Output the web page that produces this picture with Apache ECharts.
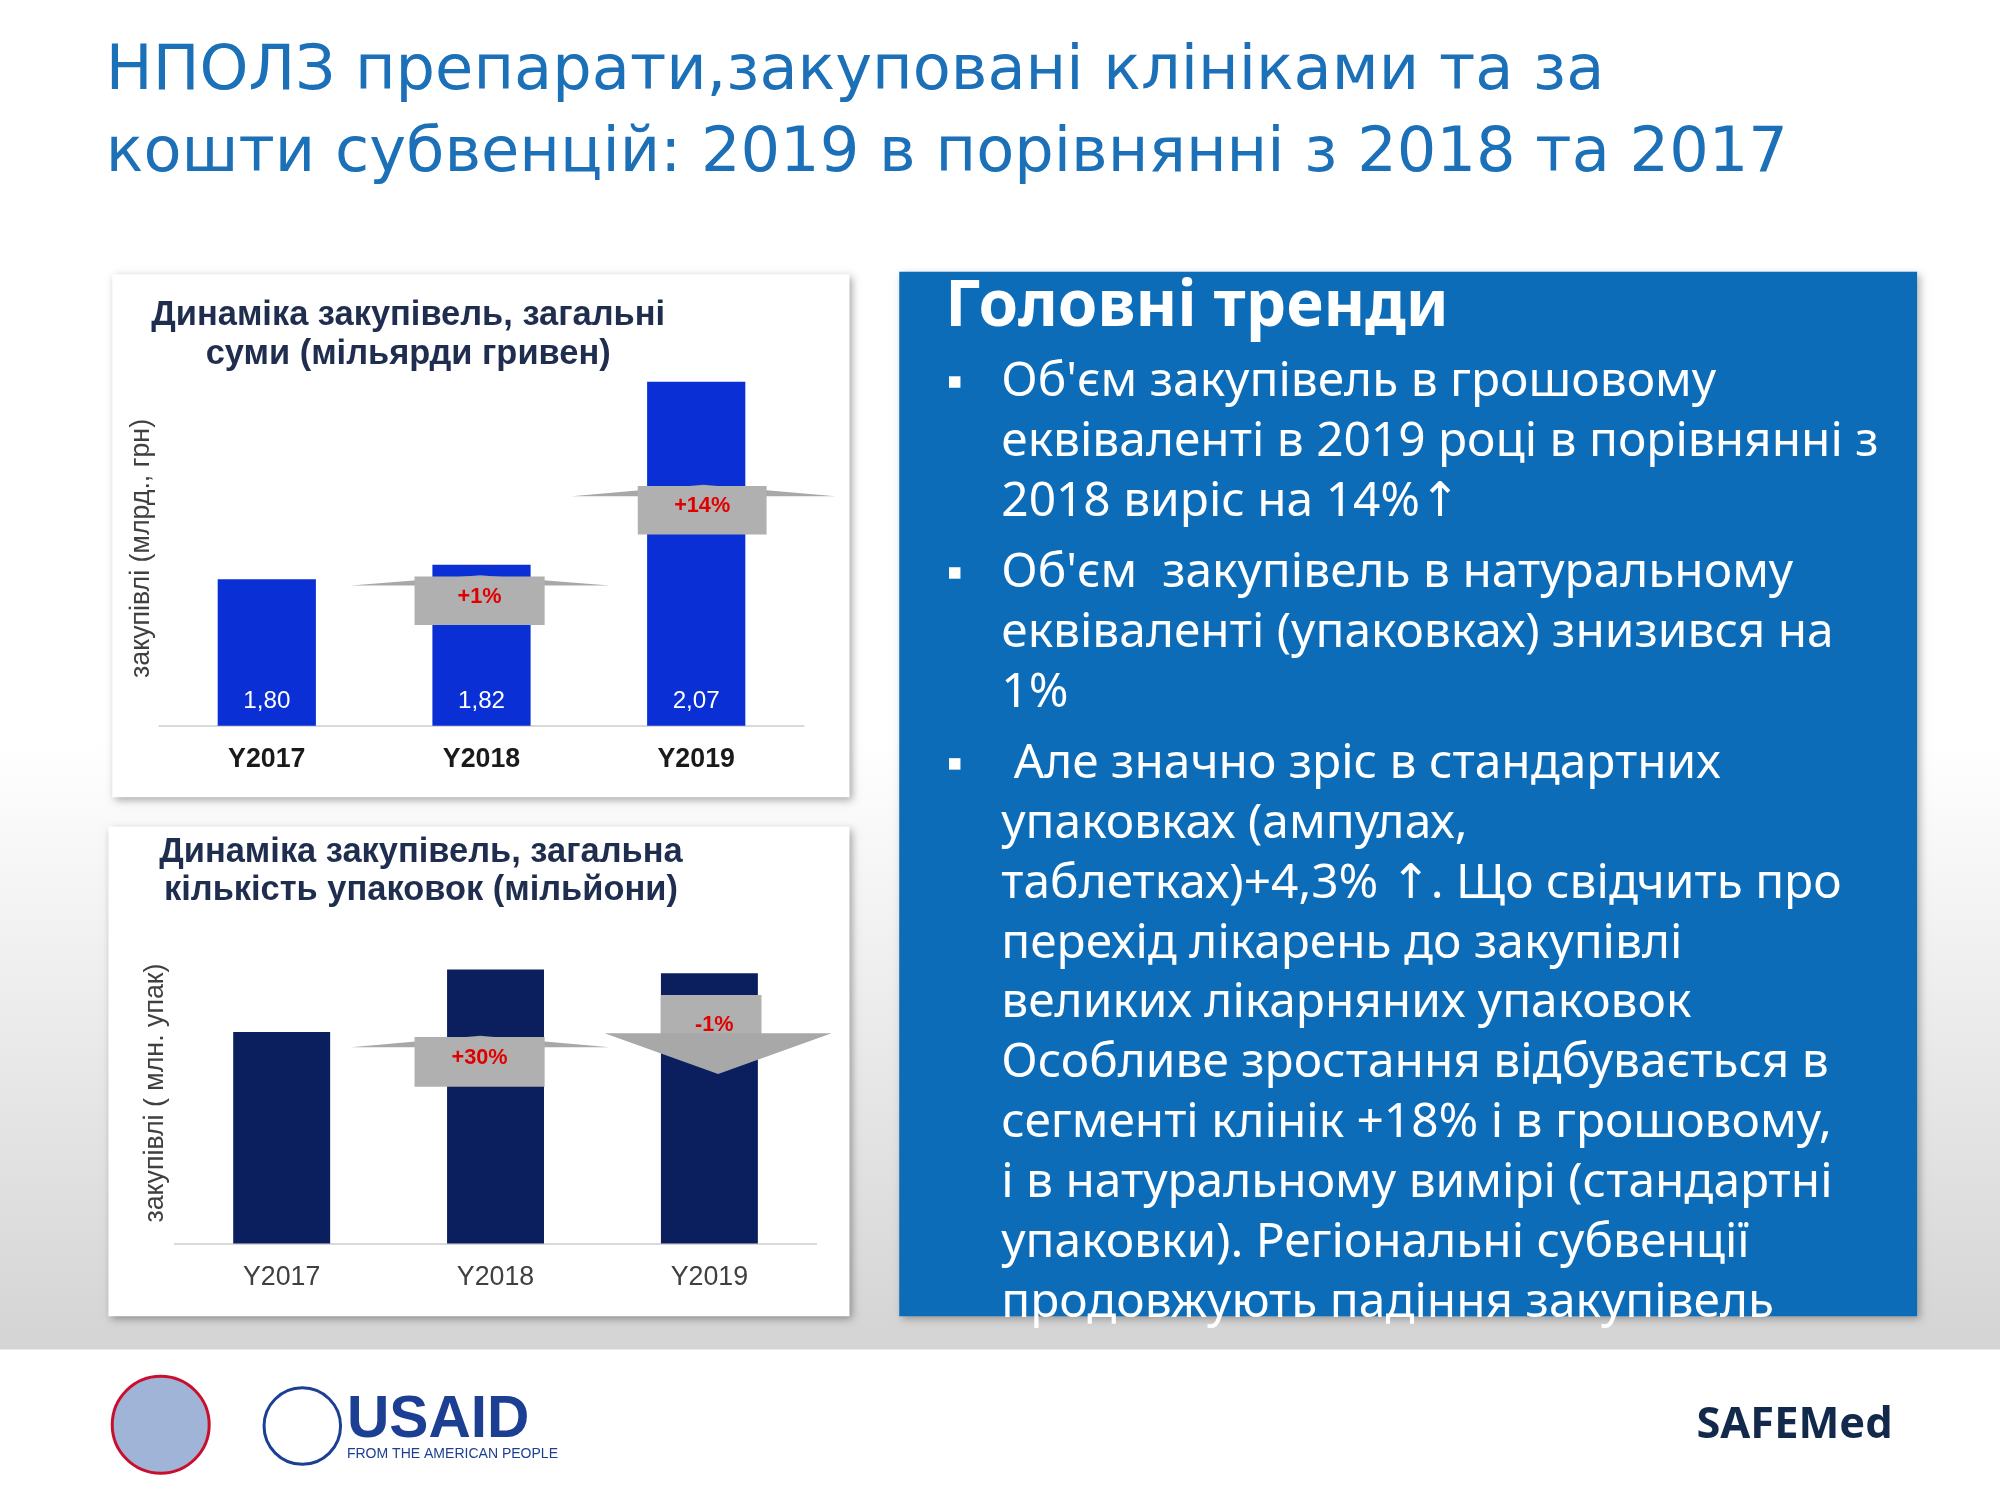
<!DOCTYPE html>
<html><head><meta charset="utf-8">
<script src="https://cdn.jsdelivr.net/npm/echarts@6/dist/echarts.min.js"></script>
<style>html,body{margin:0;padding:0;}#main{width:2000px;height:1500px;}</style>
</head><body><div id="main"></div>
<script>
// chart data
var years = ['Y2017', 'Y2018', 'Y2019'];
var sumValues = [1.80, 1.82, 2.07];       // мільярди гривен
var packValues = [16.6, 21.5, 21.2];      // мільйони упаковок
var bullets = [
  ["Об'єм закупівель в грошовому", "еквіваленті в 2019 році в порівнянні з", "2018 виріс на 14%↑"],
  ["Об'єм  закупівель в натуральному", "еквіваленті (упаковках) знизився на", "1%"],
  [" Але значно зріс в стандартних", "упаковках (ампулах,", "таблетках)+4,3% ↑. Що свідчить про",
   "перехід лікарень до закупівлі", "великих лікарняних упаковок",
   "Особливе зростання відбувається в", "сегменті клінік +18% і в грошовому,",
   "і в натуральному вимірі (стандартні", "упаковки). Регіональні субвенції",
   "продовжують падіння закупівель"]
];

var S = 2000 / 1568;
function p(v) { return v * S; }
var chart = echarts.init(document.getElementById('main'));
var font = '"Noto Sans", "DejaVu Sans", sans-serif';
var arial = '"Liberation Sans", Arial, sans-serif';
var g = [];

// background
g.push({type: 'rect', z: -10, shape: {x: 0, y: 0, width: 2000, height: p(1058)},
  style: {fill: new echarts.graphic.LinearGradient(0, 0, 0, 1, [
    {offset: 0, color: '#ffffff'}, {offset: 0.55, color: '#ffffff'}, {offset: 1, color: '#d4d4d4'}])}});
// cards
[[88, 215, 578, 410], [85, 648, 581, 384]].forEach(function (c) {
  g.push({type: 'rect', z: -5, shape: {x: p(c[0]), y: p(c[1]), width: p(c[2]), height: p(c[3])},
    style: {fill: '#fff', shadowBlur: 8, shadowOffsetX: 3, shadowOffsetY: 3, shadowColor: 'rgba(0,0,0,0.35)'}});
});
// blue panel
g.push({type: 'rect', z: -5, shape: {x: p(705), y: p(213), width: p(798), height: p(819)},
  style: {fill: '#0d6cb7', shadowBlur: 8, shadowOffsetX: 3, shadowOffsetY: 3, shadowColor: 'rgba(0,0,0,0.3)'}});

function txt(x, y, s, size, color, opts) {
  opts = opts || {};
  g.push({type: 'text', z: 20, x: p(x), y: p(y), rotation: opts.rot || 0,
    style: {text: s, fontSize: p(size), fill: color, fontFamily: opts.f || font, fontWeight: opts.w || 'normal',
      textAlign: opts.align || 'left', textVerticalAlign: 'middle'}});
}
// main title
var dv = '"DejaVu Sans", sans-serif';
txt(83, 57, 'НПОЛЗ препарати,закуповані клініками та за', 48.8, '#1b70b8', {f: dv});
txt(83, 121, 'кошти субвенцій: 2019 в порівнянні з 2018 та 2017', 48.8, '#1b70b8', {f: dv});
// chart titles
txt(320, 247, 'Динаміка закупівель, загальні', 27, '#1f2d4f', {w: 'bold', align: 'center', f: arial});
txt(320, 278, 'суми (мільярди гривен)', 27, '#1f2d4f', {w: 'bold', align: 'center', f: arial});
txt(330, 668, 'Динаміка закупівель, загальна', 27, '#1f2d4f', {w: 'bold', align: 'center', f: arial});
txt(330, 698, 'кількість упаковок (мільйони)', 27, '#1f2d4f', {w: 'bold', align: 'center', f: arial});
txt(111, 430, 'закупівлі (млрд., грн)', 21, '#404040', {rot: Math.PI / 2, align: 'center', f: arial});
txt(122, 857, 'закупівлі ( млн. упак)', 21, '#404040', {rot: Math.PI / 2, align: 'center', f: arial});

// gray arrows
function upArrow(l, r, tipY, apexY, bx, by, bw, bh, label) {
  g.push({type: 'polygon', z: 10, shape: {points: [[p(l), p(tipY)], [p((l + r) / 2), p(apexY)], [p(r), p(tipY)]]},
    style: {fill: '#a8a8a8'}});
  g.push({type: 'rect', z: 10, shape: {x: p(bx), y: p(by), width: p(bw), height: p(bh)}, style: {fill: '#b0b0b0'}});
  txt(bx + bw / 2, by + bh / 2 - 3, label, 17, '#e00000', {w: 'bold', align: 'center', f: arial});
}
upArrow(448, 655, 389, 380, 500, 381, 101, 38, '+14%');
upArrow(275, 478, 459, 451, 325, 452, 102, 38, '+1%');
upArrow(275, 478, 821, 812, 325, 813, 102, 39, '+30%');
// down arrow
g.push({type: 'rect', z: 10, shape: {x: p(518), y: p(780), width: p(79), height: p(32)}, style: {fill: '#b0b0b0'}});
g.push({type: 'polygon', z: 10, shape: {points: [[p(474), p(810)], [p(652), p(810)], [p(563), p(842)]]}, style: {fill: '#a8a8a8'}});
txt(560, 804, '-1%', 17, '#e00000', {w: 'bold', align: 'center', f: arial});

// panel text
txt(741, 241, 'Головні тренди', 50, '#ffffff', {w: 'bold'});
var y = 300;
bullets.forEach(function (b, bi) {
  g.push({type: 'rect', z: 20, shape: {x: p(744), y: p(y - 5), width: p(9), height: p(9)}, style: {fill: '#fff'}});
  b.forEach(function (line) { txt(785, y, line, 37.5, '#ffffff'); y += 46.9; });
  y += 9;
});

// logos
txt(272, 1114, 'USAID', 46, '#1c3f94', {w: 'bold', f: arial});
txt(272, 1140, 'FROM THE AMERICAN PEOPLE', 11, '#1c3f94', {f: arial});
txt(1330, 1118, 'SAFEMed', 34, '#13294b', {w: 'bold'});
g.push({type: 'circle', z: 5, shape: {cx: p(237), cy: p(1118), r: p(30)}, style: {fill: '#fff', stroke: '#1c3f94', lineWidth: 3}});
g.push({type: 'circle', z: 5, shape: {cx: p(126), cy: p(1117), r: p(38)}, style: {fill: '#9fb4d6', stroke: '#c8102e', lineWidth: 3}});

var option = {
  animation: false,
  grid: [
    {left: p(125), width: p(505), top: p(569) - 0.6 * p(574), height: 0.6 * p(574)},
    {left: p(137), width: p(503), top: p(675), height: p(300)}
  ],
  xAxis: [0, 1].map(function (i) {
    return {type: 'category', gridIndex: i, data: years,
      axisLine: {lineStyle: {color: '#d9d9d9', width: 2}}, axisTick: {show: false},
      axisLabel: {color: i ? '#404040' : '#1a1a1a', fontSize: p(21), fontFamily: arial, margin: p(16), fontWeight: i ? 'normal' : 'bold'}};
  }),
  yAxis: [
    {type: 'value', gridIndex: 0, min: 1.6, max: 2.2, show: false},
    {type: 'value', gridIndex: 1, min: 0, max: 30, show: false}
  ],
  series: [
    {type: 'bar', xAxisIndex: 0, yAxisIndex: 0, data: sumValues, barWidth: p(77),
      itemStyle: {color: '#0a2fd4'},
      label: {show: true, position: 'insideBottom', distance: p(10), color: '#ffffff', fontSize: p(19), fontFamily: arial,
        formatter: function (d) { return d.value.toFixed(2).replace('.', ','); }}},
    {type: 'bar', xAxisIndex: 1, yAxisIndex: 1, data: packValues, barWidth: p(76),
      itemStyle: {color: '#0b1f5e'}}
  ],
  graphic: g
};
chart.setOption(option);
</script></body></html>
